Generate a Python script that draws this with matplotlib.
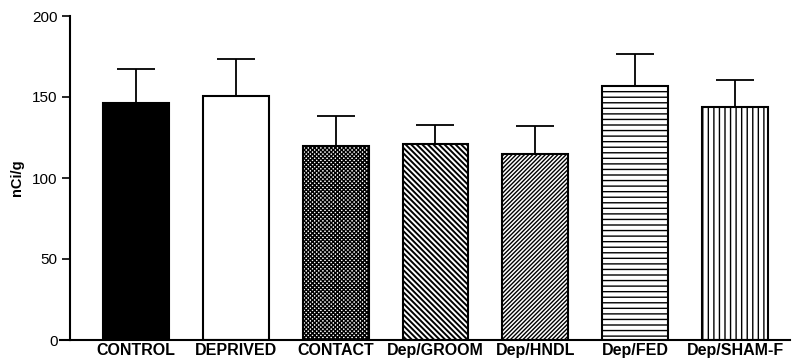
import matplotlib
matplotlib.use("Agg")
import matplotlib.pyplot as plt
import numpy as np

plt.rcParams['font.family'] = ['Liberation Sans', 'DejaVu Sans']
plt.rcParams['hatch.linewidth'] = 1.0

categories = ["CONTROL", "DEPRIVED", "CONTACT", "Dep/GROOM", "Dep/HNDL", "Dep/FED", "Dep/SHAM-F"]
means = [146.5, 150.5, 119.5, 121.0, 115.0, 156.5, 144.0]
errors = [20.5, 23.0, 18.5, 11.5, 16.8, 20.0, 16.8]
colors = ["black", "white", "white", "white", "white", "white", "white"]
hatches = [None, None, "xxxxxxxx", "\\" * 6, "/" * 8, "---", "|||"]
hatch_lw = [1.0, 1.0, 1.0, 1.4, 1.0, 1.0, 1.0]
yticks = [0, 50, 100, 150, 200]

fig = plt.figure(figsize=(7.95, 3.62), dpi=100)
ax = fig.add_axes([70/795, 1-340/362, 720/795, 324/362])

x = np.arange(len(categories))
bars = ax.bar(x, means, width=0.66, color=colors, edgecolor="black", linewidth=1.5, zorder=2)
for b, h, lw in zip(bars, hatches, hatch_lw):
    if h:
        b.set_hatch(h)
        try:
            b.set_hatch_linewidth(lw)
        except Exception:
            pass
ax.errorbar(x, means, yerr=[np.zeros(len(means)), errors], fmt="none", ecolor="black",
            elinewidth=1.3, capsize=13.5, capthick=1.3, zorder=1)

ax.set_xlim(-0.66, 6.55)
ax.set_ylim(0, 200)
ax.set_yticks(yticks)
ax.set_yticklabels([str(t) for t in yticks], fontsize=11)
ax.set_xticks(x)
ax.set_xticklabels(categories, fontsize=11.5, fontweight="bold")
ax.tick_params(axis="x", length=0, pad=2)
ax.tick_params(axis="y", direction="out", length=6, width=1.2, pad=3)
for s in ["top", "right"]:
    ax.spines[s].set_visible(False)
ax.spines["left"].set_linewidth(1.5)
ax.spines["bottom"].set_linewidth(1.5)
ax.plot([-0.014, 0], [0, 0], transform=ax.transAxes, color="black", lw=1.5, clip_on=False)
ax.set_ylabel("nCi/g", fontsize=10.5, fontweight="bold", labelpad=6)

fig.savefig("out.png", dpi=100)
